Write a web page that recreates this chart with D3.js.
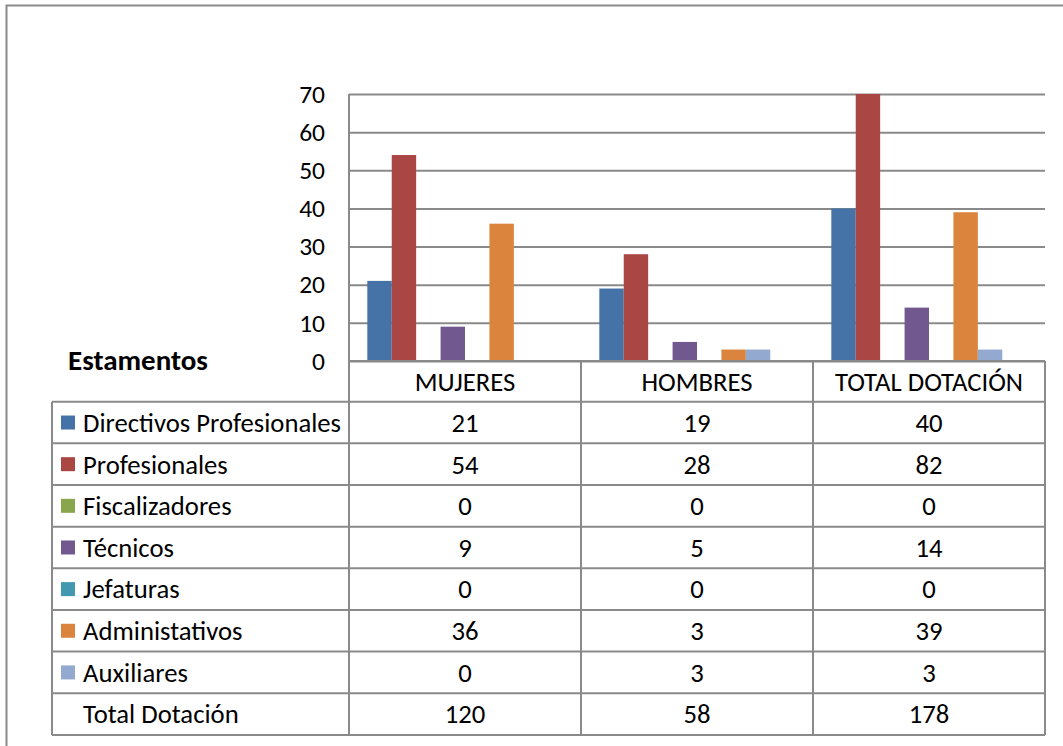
<!DOCTYPE html>
<html>
<head>
<meta charset="utf-8">
<script src="https://cdn.jsdelivr.net/npm/d3@7"></script>
<style>
  html, body { margin: 0; padding: 0; background: #fff; }
  svg { display: block; }
  text { font-family: Carlito, Calibri, Lato, sans-serif; fill: #000; }
</style>
</head>
<body>
<svg id="chart" width="1063" height="746"></svg>
<script>
// ---- data ----
const categories = ["MUJERES", "HOMBRES", "TOTAL DOTACIÓN"];
const seriesNames = ["Directivos Profesionales", "Profesionales", "Fiscalizadores", "Técnicos", "Jefaturas", "Administativos", "Auxiliares", "Total Dotación"];
const directivosProfesionales = [21, 19, 40];
const profesionales = [54, 28, 82];
const fiscalizadores = [0, 0, 0];
const tecnicos = [9, 5, 14];
const jefaturas = [0, 0, 0];
const administativos = [36, 3, 39];
const auxiliares = [0, 3, 3];
const totalDotacion = [120, 58, 178];
const yTicks = [0, 10, 20, 30, 40, 50, 60, 70];
const tableTitle = "Estamentos";

const seriesValues = [directivosProfesionales, profesionales, fiscalizadores, tecnicos, jefaturas, administativos, auxiliares, totalDotacion];
const seriesColors = ["#4572A7", "#AA4643", "#89A54E", "#71588F", "#4198AF", "#DB843D", "#93A9CF", "none"];

// ---- layout ----
const W = 1063, H = 746;
const plotLeft = 349, plotRight = 1045, plotTop = 94, plotBottom = 361;
const tableLeft = 52;
const headerBottom = 401.7;
const rowH = 41.65;
const tableBottom = headerBottom + seriesNames.length * rowH;
const lineColor = "#8a8a8a";
const fontSize = 26.7;
const tickFontSize = 25.5;
const titleFontSize = 29;

const svg = d3.select("#chart");

// outer frame (only top/left visible)
svg.append("path")
  .attr("d", `M6.5,${H + 5} V5.5 H${W + 5}`)
  .attr("fill", "none").attr("stroke", lineColor).attr("stroke-width", 2);

const x = d3.scaleBand().domain(categories).range([plotLeft, plotRight]).padding(0);
const xInner = d3.scaleBand().domain(d3.range(seriesNames.length))
  .range([0, x.bandwidth()]).paddingInner(0).paddingOuter(0.75);
const y = d3.scaleLinear().domain([0, 70]).range([plotBottom, plotTop]);

// gridlines + y axis labels
const yAxis = d3.axisLeft(y).tickValues(yTicks).tickSize(-(plotRight - plotLeft)).tickPadding(24).tickFormat(d3.format("d"));
const gy = svg.append("g").attr("transform", `translate(${plotLeft},0)`).call(yAxis);
gy.select(".domain").remove();
gy.selectAll(".tick line").attr("stroke", lineColor).attr("stroke-width", 2);
gy.selectAll(".tick text").attr("font-size", tickFontSize).attr("font-family", "Carlito, Calibri, Lato, sans-serif").attr("fill", "#000");

// vertical axis line
svg.append("line").attr("x1", plotLeft).attr("x2", plotLeft).attr("y1", plotTop).attr("y2", tableBottom)
  .attr("stroke", lineColor).attr("stroke-width", 2);

// bars (clipped to plot area)
svg.append("clipPath").attr("id", "plotClip").append("rect")
  .attr("x", plotLeft).attr("y", plotTop).attr("width", plotRight - plotLeft).attr("height", plotBottom - plotTop);

const barsG = svg.append("g").attr("clip-path", "url(#plotClip)");
seriesValues.forEach((vals, si) => {
  barsG.selectAll(null).data(vals.map((v, ci) => ({ v, c: categories[ci] })))
    .enter().append("rect")
    .attr("x", d => x(d.c) + xInner(si))
    .attr("width", xInner.bandwidth())
    .attr("y", d => y(d.v))
    .attr("height", d => y(0) - y(d.v))
    .attr("fill", seriesColors[si]);
});

// data table
const tg = svg.append("g");
tg.append("line").attr("x1", plotLeft).attr("x2", plotRight).attr("y1", plotBottom).attr("y2", plotBottom)
  .attr("stroke", lineColor).attr("stroke-width", 2);
d3.range(seriesNames.length + 1).forEach(i => {
  const yy = headerBottom + i * rowH;
  tg.append("line").attr("x1", tableLeft).attr("x2", plotRight).attr("y1", yy).attr("y2", yy)
    .attr("stroke", lineColor).attr("stroke-width", 2);
});
tg.append("line").attr("x1", tableLeft).attr("x2", tableLeft).attr("y1", headerBottom).attr("y2", tableBottom)
  .attr("stroke", lineColor).attr("stroke-width", 2);
categories.forEach(c => {
  const xx = x(c) + x.bandwidth();
  tg.append("line").attr("x1", xx).attr("x2", xx).attr("y1", plotBottom).attr("y2", tableBottom)
    .attr("stroke", lineColor).attr("stroke-width", 2);
});

// header
tg.selectAll(null).data(categories).enter().append("text")
  .attr("x", d => x(d) + x.bandwidth() / 2)
  .attr("y", (plotBottom + headerBottom) / 2)
  .attr("dy", "0.35em").attr("text-anchor", "middle").attr("font-size", fontSize)
  .text(d => d);

tg.append("text").attr("x", 68).attr("y", plotBottom).attr("dy", "0.3em")
  .attr("font-size", titleFontSize).attr("font-weight", "bold").text(tableTitle);

// rows
seriesNames.forEach((name, si) => {
  const cy = headerBottom + si * rowH + rowH / 2;
  if (seriesColors[si] !== "none") {
    tg.append("rect").attr("x", 61).attr("y", cy - 7).attr("width", 14).attr("height", 14).attr("fill", seriesColors[si]);
  }
  tg.append("text").attr("x", 83).attr("y", cy).attr("dy", "0.35em").attr("font-size", fontSize).text(name);
  categories.forEach((c, ci) => {
    tg.append("text").attr("x", x(c) + x.bandwidth() / 2).attr("y", cy).attr("dy", "0.35em")
      .attr("text-anchor", "middle").attr("font-size", fontSize).text(seriesValues[si][ci]);
  });
});
</script>
</body>
</html>
